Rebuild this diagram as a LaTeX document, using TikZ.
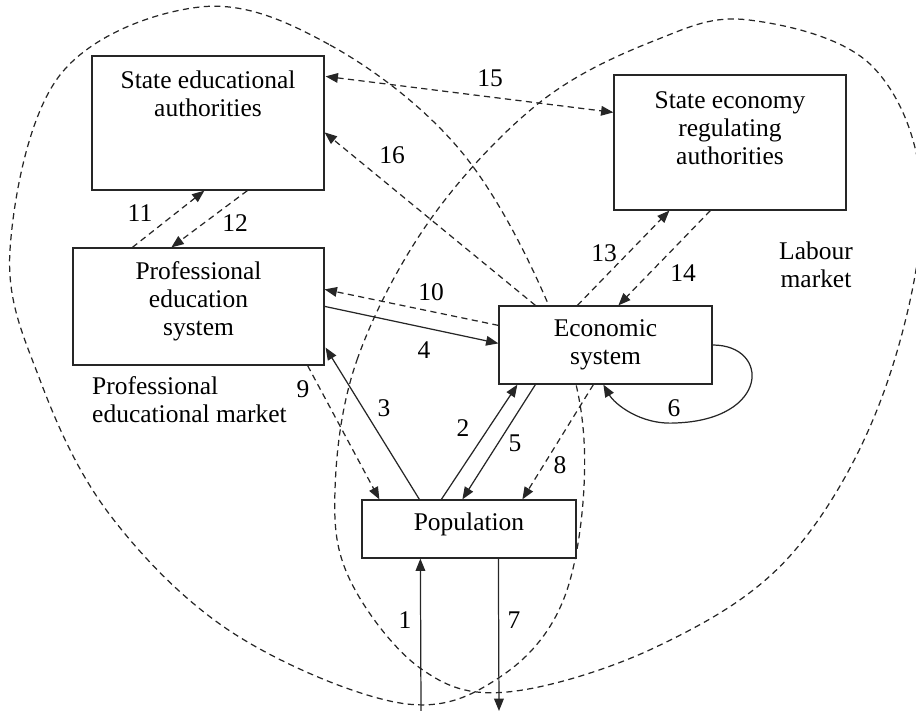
\documentclass[tikz,border=0pt]{standalone}
\usepackage{fontspec}
\setmainfont{Liberation Serif}
\usetikzlibrary{arrows.meta,calc,positioning}

\tikzset{
  box/.style={draw=black!85, fill=white, line width=0.7pt, inner sep=0pt, align=center},
  flow/.style={draw=black!85, line width=0.7pt, ->},
  dflow/.style={flow, dash pattern=on 3.5pt off 2.5pt},
  market/.style={draw=black!85, line width=0.7pt, dash pattern=on 3.5pt off 2.5pt},
}

\begin{document}
\begin{tikzpicture}[x=0.2mm, y=-0.2mm, >={Triangle[length=7pt,width=5.5pt]},
    font=\fontsize{14.5}{16}\selectfont]
    \useasboundingbox (0,0) rectangle (916,711);
    %% market borders
    \draw[market] plot[smooth cycle, tension=0.6] coordinates {
        (200,7) (330,45) (460,150) (549,306) (584,440) (566,593) (500,677)
        (400,703) (233,633) (110,515) (40,380) (10,250) (60,75)};
    \draw[market] plot[smooth cycle, tension=0.6] coordinates {
        (335,490) (357,360) (430,220) (539,103) (656,40) (749,20) (873,67)
        (922,200) (882,397) (789,557) (656,647) (507,692) (420,668) (350,580)};
    %% boxes
    \node[box, minimum width=46.4mm, minimum height=26.8mm] (sea) at (208,123) {};
    \node[align=center] (seatext) at (208,94) {State educational\\authorities};
    \node[box, minimum width=46.4mm, minimum height=27mm] (sera) at (730,142.5) {};
    \node[align=center] (seratext) at (730,128.5) {State economy\\regulating\\authorities};
    \node[box, minimum width=50.2mm, minimum height=23.4mm] (pes) at (198.5,306.5) {};
    \node[align=center] (pestext) at (198.5,301) {Professional\\education\\system};
    \node[box, minimum width=42.6mm, minimum height=15.6mm] (eco) at (605.5,345) {Economic\\system};
    \node[box, minimum width=42.8mm, minimum height=11.6mm] (pop) at (469,529) {};
    \node (poptext) at (469,524) {Population};
    %% authorities
    \draw[dflow, <->] ($(sea.north east)+(1,21)$) -- ($(sera.north west)+(0,38)$);
    \draw[dflow] ($(pes.north west)+(60,0)$) -- ($(sea.south west)+(113,0)$);
    \draw[dflow] ($(sea.south west)+(156,0)$) -- ($(pes.north west)+(99,0)$);
    \draw[dflow] ($(eco.north west)+(37,0)$) -- ($(sea.north east)+(0,77)$);
    \draw[dflow] ($(eco.north west)+(79,0)$) -- ($(sera.south west)+(56,0)$);
    \draw[dflow] ($(sera.south west)+(97,0)$) -- ($(eco.north west)+(120,0)$);
    %% education and economy
    \draw[dflow] ($(eco.north west)+(0,20)$) -- ($(pes.north east)+(0,42)$);
    \draw[flow] ($(pes.north east)+(0,59)$) -- ($(eco.north west)+(0,38)$);
    %% population
    \draw[flow] ($(pop.north west)+(58,0)$) -- ($(pes.south east)+(1,-18)$);
    \draw[dflow] ($(pes.south east)+(-17,0)$) -- ($(pop.north west)+(18,0)$);
    \draw[flow] ($(pop.north west)+(80,0)$) -- ($(eco.south west)+(19,0)$);
    \draw[flow] ($(eco.south west)+(37,0)$) -- ($(pop.north west)+(101,0)$);
    \draw[dflow] ($(eco.south west)+(95,0)$) -- ($(pop.north west)+(161,0)$);
    %% loop 6
    \coordinate (loop6) at (675,423);
    \draw[flow] (eco.east) .. controls +(58,0) and +(95,-3) .. (loop6)
        .. controls +(-35,2) and +(11,19) .. ($(eco.south west)+(105,0)$);
    %% in and out
    \coordinate (in1) at (421,711);
    \coordinate (out7) at (499,711);
    \draw[flow] (in1) -- ($(pop.south west)+(59,0)$);
    \draw[flow] ($(pop.south west)+(137,0)$) -- (out7);
    %% numbers
    \node (n1) at (405,620) {1};
    \node (n2) at (463,428) {2};
    \node (n3) at (384,408) {3};
    \node (n4) at (424,350) {4};
    \node (n5) at (515,443) {5};
    \node (n6) at (674,408) {6};
    \node (n7) at (514,620) {7};
    \node (n8) at (560,465) {8};
    \node (n9) at (303,389) {9};
    \node (n10) at (431,292) {10};
    \node (n11) at (140,213) {11};
    \node (n12) at (235,223) {12};
    \node (n13) at (604,253) {13};
    \node (n14) at (683,273) {14};
    \node (n15) at (490,78) {15};
    \node (n16) at (392,155) {16};
    %% markets
    \node[align=left, anchor=west] (pem) at (86,400) {Professional\\educational market};
    \node[align=center] (lm) at (816,265) {Labour\\market};
\end{tikzpicture}
\end{document}
